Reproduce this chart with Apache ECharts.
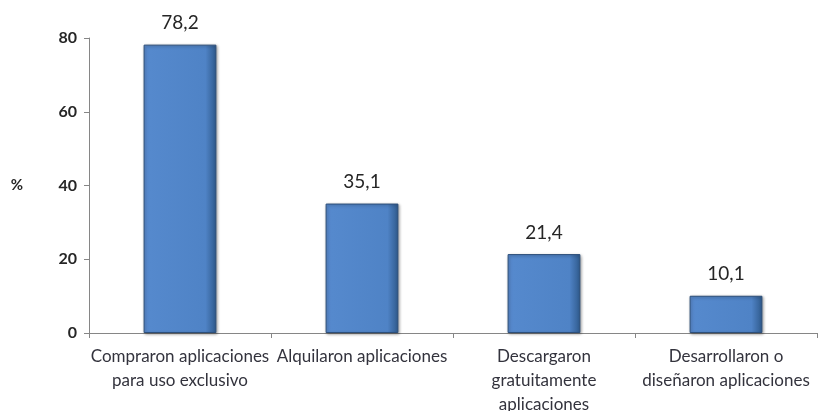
<!DOCTYPE html>
<html><head><meta charset="utf-8">
<script src="https://cdn.jsdelivr.net/npm/echarts@6/dist/echarts.min.js"></script>
<style>html,body{margin:0;padding:0;background:#fff}#c{width:819px;height:411px}</style>
</head><body><div id="c"></div>
<script>
const categories = ["Compraron aplicaciones\npara uso exclusivo", "Alquilaron aplicaciones", "Descargaron\ngratuitamente\naplicaciones", "Desarrollaron o\ndiseñaron aplicaciones"];
const values = [78.2, 35.1, 21.4, 10.1];
const yTicks = [0, 20, 40, 60, 80];

const font = "Lato, 'Liberation Sans', sans-serif";
const chart = echarts.init(document.getElementById('c'));
chart.setOption({
  animation: false,
  grid: {left: 89, right: 2, top: 38, bottom: 78, containLabel: false, outerBoundsMode: 'none'},
  xAxis: {
    type: 'category', data: categories,
    axisLine: {lineStyle: {color: '#868686', width: 1}},
    axisTick: {show: true, length: 5, lineStyle: {color: '#868686'}},
    axisLabel: {color: '#33333d', fontFamily: font, fontSize: 17, lineHeight: 24, margin: 12, interval: 0}
  },
  yAxis: {
    type: 'value', min: yTicks[0], max: yTicks[yTicks.length-1], interval: 20,
    name: '%', nameLocation: 'middle', nameRotate: 0, nameGap: 66,
    nameTextStyle: {color: '#262626', fontFamily: font, fontSize: 15, fontWeight: 'bold'},
    splitLine: {show: false},
    axisLine: {show: true, lineStyle: {color: '#868686'}},
    axisTick: {show: true, length: 5, lineStyle: {color: '#868686'}},
    axisLabel: {color: '#262626', fontFamily: font, fontSize: 16, fontWeight: 'bold', margin: 12}
  },
  series: [{
    type: 'bar', data: values, barWidth: '40%',
    itemStyle: {
      color: new echarts.graphic.LinearGradient(0, 0, 1, 0, [
        {offset: 0, color: '#5a8bd0'},
        {offset: 0.08, color: '#5589cd'},
        {offset: 0.85, color: '#4f83c6'},
        {offset: 1, color: '#2f5a8c'}
      ]),
      borderColor: '#2d4f7a', borderWidth: 1,
      shadowColor: 'rgba(0,0,0,0.35)', shadowBlur: 3, shadowOffsetX: 1, shadowOffsetY: 1
    },
    label: {
      show: true, position: 'top', distance: 12,
      color: '#262626', fontFamily: font, fontSize: 19,
      formatter: p => String(p.value).replace('.', ',')
    }
  }]
});
</script></body></html>
